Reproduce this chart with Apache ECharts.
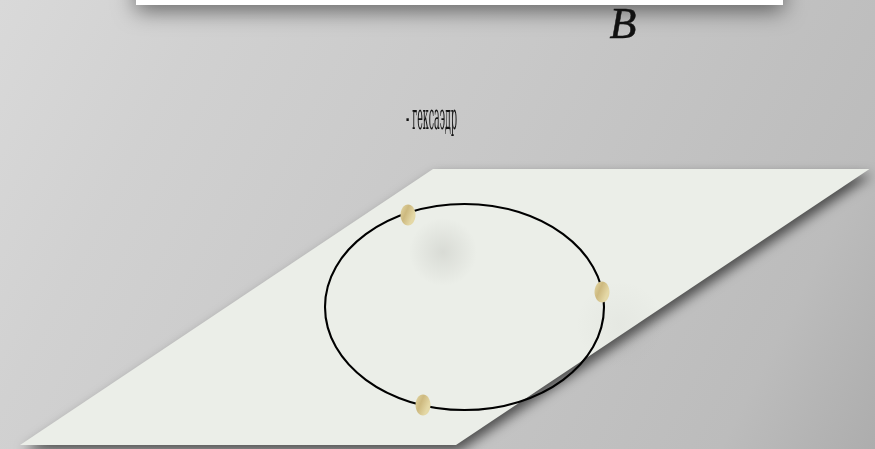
<!DOCTYPE html>
<html><head><meta charset="utf-8">
<style>html,body{margin:0;padding:0;background:#c4c4c4}#c{width:875px;height:449px}</style>
<script src="https://cdn.jsdelivr.net/npm/echarts@6/dist/echarts.min.js"></script></head>
<body><div id="c"></div>
<script>
// Values, in the picture's own x/y units
const panelCorners = [[136, -20], [783, -20], [783, 5], [136, 5]];
const planeCorners = [[433, 169], [869.5, 169], [456, 445], [20, 445]];
const circleCenter = [[464.5, 307]];
const circleRadii = [139.5, 103];
const pointPositions = [[408, 215], [602, 292], [423, 405]];
const smudges = [[443, 252, 34, 0.16], [620, 325, 44, 0.05]];
const captionLetter = 'B';
const captionWord = '- гексаэдр';

const chart = echarts.init(document.getElementById('c'), null, {renderer: 'canvas'});
const goldFill = new echarts.graphic.LinearGradient(0, 0, 1, 0.3, [
  {offset: 0, color: '#e4d8a6'}, {offset: 0.5, color: '#cdb97f'}, {offset: 1, color: '#e4d8a6'}
]);
function polygonItem(corners, style) {
  return (params, api) => ({
    type: 'polygon',
    shape: {points: corners.map(c => api.coord(c))},
    style
  });
}
chart.setOption({
  animation: false,
  tooltip: {show: false},
  backgroundColor: new echarts.graphic.LinearGradient(0, 0, 1, 1, [
    {offset: 0, color: '#d9d9d9'}, {offset: 0.19, color: '#d1d1d1'}, {offset: 0.5, color: '#c8c8c8'},
    {offset: 0.86, color: '#bcbcbc'}, {offset: 1, color: '#adadad'}
  ]),
  grid: {left: 0, right: 0, top: 0, bottom: 0},
  xAxis: {type: 'value', min: 0, max: 875, show: false},
  yAxis: {type: 'value', min: 0, max: 449, inverse: true, show: false},
  series: [
    {type: 'custom', silent: true, coordinateSystem: 'cartesian2d', data: [0], z: 1,
      renderItem: polygonItem(panelCorners, {fill: '#ffffff', shadowColor: 'rgba(0,0,0,0.55)', shadowBlur: 22, shadowOffsetY: 5})},
    {type: 'custom', silent: true, coordinateSystem: 'cartesian2d', data: [0], z: 2,
      renderItem: polygonItem(planeCorners, {fill: '#ebeee8', shadowColor: 'rgba(0,0,0,0.6)', shadowBlur: 12, shadowOffsetX: 3, shadowOffsetY: 6})},
    {type: 'custom', silent: true, coordinateSystem: 'cartesian2d', data: smudges, z: 3,
      renderItem: (params, api) => {
        const c = api.coord([api.value(0), api.value(1)]);
        const r = api.value(2);
        const a = api.value(3);
        return {type: 'circle', shape: {cx: c[0], cy: c[1], r},
          style: {fill: new echarts.graphic.RadialGradient(0.5, 0.5, 0.5, [
            {offset: 0, color: 'rgba(120,120,115,' + a + ')'}, {offset: 1, color: 'rgba(120,120,115,0)'}
          ])}};
      }},
    {type: 'custom', silent: true, coordinateSystem: 'cartesian2d', data: circleCenter, z: 4,
      renderItem: (params, api) => {
        const c = api.coord([api.value(0), api.value(1)]);
        return {type: 'ellipse', shape: {cx: c[0], cy: c[1], rx: circleRadii[0], ry: circleRadii[1]},
          style: {fill: 'none', stroke: '#000000', lineWidth: 2.1}};
      }},
    {type: 'custom', silent: true, coordinateSystem: 'cartesian2d', data: pointPositions, z: 5,
      renderItem: (params, api) => {
        const c = api.coord([api.value(0), api.value(1)]);
        return {type: 'ellipse', shape: {cx: c[0], cy: c[1], rx: 7.5, ry: 10.5},
          style: {fill: goldFill}};
      }},
    {type: 'custom', silent: true, coordinateSystem: 'cartesian2d', data: [[623, 26]], z: 6,
      renderItem: (params, api) => {
        const c = api.coord([api.value(0), api.value(1)]);
        return {type: 'text', x: c[0], y: c[1],
          style: {text: captionLetter, fill: '#111111', stroke: '#111111', lineWidth: 0.5, font: 'italic 44px "Liberation Serif", serif', align: 'center', verticalAlign: 'middle'}};
      }},
    {type: 'custom', silent: true, coordinateSystem: 'cartesian2d', data: [[431.5, 120]], z: 6,
      renderItem: (params, api) => {
        const c = api.coord([api.value(0), api.value(1)]);
        return {type: 'text', x: c[0], y: c[1], scaleX: 0.38, scaleY: 1.45,
          style: {text: captionWord, fill: '#111111', font: '25px "DejaVu Serif", serif', align: 'center', verticalAlign: 'middle'}};
      }}
  ]
});
</script></body></html>
